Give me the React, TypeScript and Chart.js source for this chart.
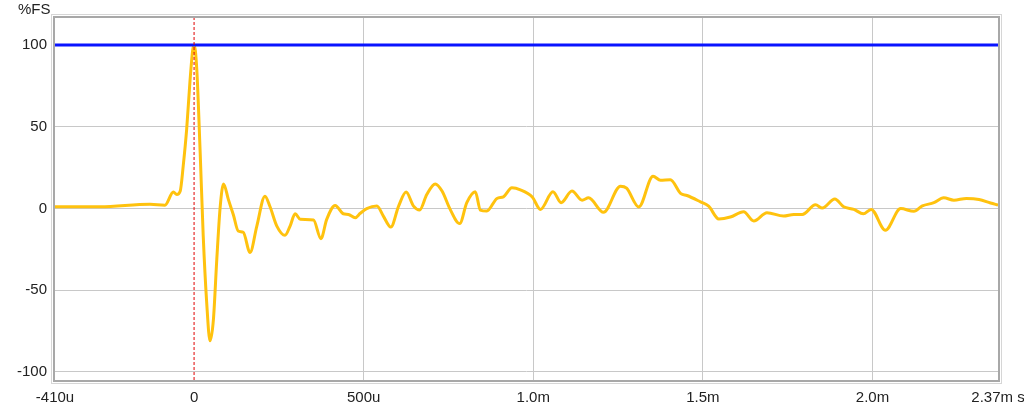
import React, { useEffect, useRef } from "react";
import { Chart, registerables } from "chart.js";

Chart.register(...registerables);

// time in microseconds
const times = [-410, -277, -130, -86, -61, -51, -41, -32, -22, -12, -4, 0, 8, 18, 27, 37, 47, 57, 67, 77, 87, 101, 116, 130, 145, 165, 185, 209, 224, 244, 268, 283, 298, 313, 352, 374, 391, 416, 440, 455, 475, 490, 509, 539, 558, 580, 603, 625, 647, 665, 686, 711, 731, 755, 783, 804, 829, 844, 863, 893, 912, 937, 962, 997, 1021, 1058, 1082, 1114, 1144, 1163, 1207, 1257, 1275, 1311, 1353, 1375, 1404, 1435, 1453, 1493, 1517, 1547, 1581, 1620, 1650, 1689, 1738, 1768, 1793, 1832, 1852, 1889, 1915, 1945, 1973, 1996, 2038, 2083, 2122, 2147, 2181, 2210, 2240, 2277, 2314, 2348, 2370];
// %FS
const values = [1, 1, 2.5, 2, 10, 8.5, 10.5, 26, 48, 78, 97, 100, 85, 34, -17, -57, -81, -68, -31, 1, 15, 5.5, -4, -13.8, -14.6, -27, -10.8, 7.5, 1, -10.8, -16.5, -10.8, -3.3, -6.7, -7.1, -18.5, -6.7, 1.8, -3.3, -3.7, -5.7, -3, -0.2, 1.4, -4.7, -11.4, 1.4, 10, 1.4, -1, 8.5, 15, 10.6, -0.6, -9.3, 3.5, 10.2, -1, -1.6, 6.1, 7.1, 12.6, 11.4, 7, -0.6, 10.2, 3.5, 10.6, 5, 6.5, -2.4, 13.6, 12.4, 0.9, 19.7, 17.2, 17.5, 9, 7.9, 4, 1.4, -6.5, -5.3, -2.1, -7.7, -2.6, -4.7, -3.7, -3.7, 2.2, 0.2, 5.7, 1, -0.6, -3.3, -0.6, -13.4, -0.1, -1.8, 1.5, 3.5, 6.5, 5, 6.1, 5.5, 3.3, 2];

const xTickValues = [-410, 0, 500, 1000, 1500, 2000, 2370];
const xTickLabels = ["-410u", "0", "500u", "1.0m", "1.5m", "2.0m", "2.37m s"];
const yTickValues = [-100, -50, 0, 50, 100];
const yTickLabels = ["-100", "-50", "0", "50", "100"];

const xMin = -410;
const xMax = 2370;
const yMin = -105;
const yMax = 116.5;
const fullScaleLevel = 100;
const markerTime = 0;

const framePlugin = {
  id: "frame",
  afterDraw(chart: any) {
    const { ctx, chartArea } = chart;
    ctx.save();
    ctx.strokeStyle = "#d6d6d6";
    ctx.lineWidth = 1;
    ctx.strokeRect(chartArea.left - 3.5, chartArea.top - 3.5, chartArea.right - chartArea.left + 7, chartArea.bottom - chartArea.top + 7);
    ctx.strokeStyle = "#a8a8a8";
    ctx.lineWidth = 2;
    ctx.strokeRect(chartArea.left - 1, chartArea.top - 1, chartArea.right - chartArea.left + 2, chartArea.bottom - chartArea.top + 2);
    ctx.fillStyle = "#222";
    ctx.font = "15px 'Liberation Sans', Arial, sans-serif";
    ctx.textAlign = "left";
    ctx.textBaseline = "top";
    ctx.fillText("%FS", 18, 2);
    ctx.restore();
  },
};

export default function App() {
  const ref = useRef<HTMLCanvasElement>(null);
  useEffect(() => {
    if (!ref.current) return;
    const font = { family: "'Liberation Sans', Arial, sans-serif", size: 15 };
    const chart = new Chart(ref.current, {
      type: "line",
      data: {
        datasets: [
          {
            data: [{ x: markerTime, y: yMin }, { x: markerTime, y: yMax }],
            borderColor: "#e00000",
            borderWidth: 1,
            borderDash: [3, 2],
            pointRadius: 0,
            order: 0,
          },
          {
            data: [{ x: xMin, y: fullScaleLevel }, { x: xMax, y: fullScaleLevel }],
            borderColor: "#0a14ff",
            borderWidth: 3,
            pointRadius: 0,
            order: 1,
          },
          {
            data: times.map((t, i) => ({ x: t, y: values[i] })),
            borderColor: "#ffc20e",
            borderWidth: 3,
            pointRadius: 0,
            cubicInterpolationMode: "monotone",
            order: 2,
          },
        ],
      },
      options: {
        animation: false,
        responsive: false,
        layout: { padding: { left: 0, right: 26, top: 18, bottom: 0 } },
        plugins: { legend: { display: false }, tooltip: { enabled: false } },
        scales: {
          x: {
            type: "linear",
            min: xMin,
            max: xMax,
            afterBuildTicks: (s: any) => {
              s.ticks = xTickValues.map((v) => ({ value: v }));
            },
            afterFit: (s: any) => {
              s.height = 32;
              s.paddingLeft = 0;
              s.paddingRight = 0;
            },
            ticks: {
              autoSkip: false,
              maxRotation: 0,
              padding: 9,
              color: "#222",
              font,
              callback: (v: any) => {
                const i = xTickValues.indexOf(Number(v));
                return i >= 0 ? xTickLabels[i] : "";
              },
            },
            grid: {
              drawTicks: false,
              color: (c: any) => {
                const v = c.tick ? c.tick.value : 0;
                return v === xMin || v === xMax || v === markerTime ? "rgba(0,0,0,0)" : "#c8c8c8";
              },
            },
            border: { display: false },
          },
          y: {
            type: "linear",
            min: yMin,
            max: yMax,
            afterBuildTicks: (s: any) => {
              s.ticks = yTickValues.map((v) => ({ value: v }));
            },
            afterFit: (s: any) => {
              s.width = 55;
              s.paddingTop = 0;
              s.paddingBottom = 0;
            },
            ticks: {
              padding: 8,
              color: "#222",
              font,
              callback: (v: any) => {
                const i = yTickValues.indexOf(Number(v));
                return i >= 0 ? yTickLabels[i] : "";
              },
            },
            grid: { drawTicks: false, color: "#c8c8c8" },
            border: { display: false },
          },
        },
      },
      plugins: [framePlugin],
    } as any);
    return () => chart.destroy();
  }, []);
  return (
    <div style={{ position: "absolute", left: 0, top: 0, width: 1024, height: 412, background: "#fff" }}>
      <canvas ref={ref} width={1024} height={412} style={{ width: 1024, height: 412, display: "block" }} />
    </div>
  );
}
